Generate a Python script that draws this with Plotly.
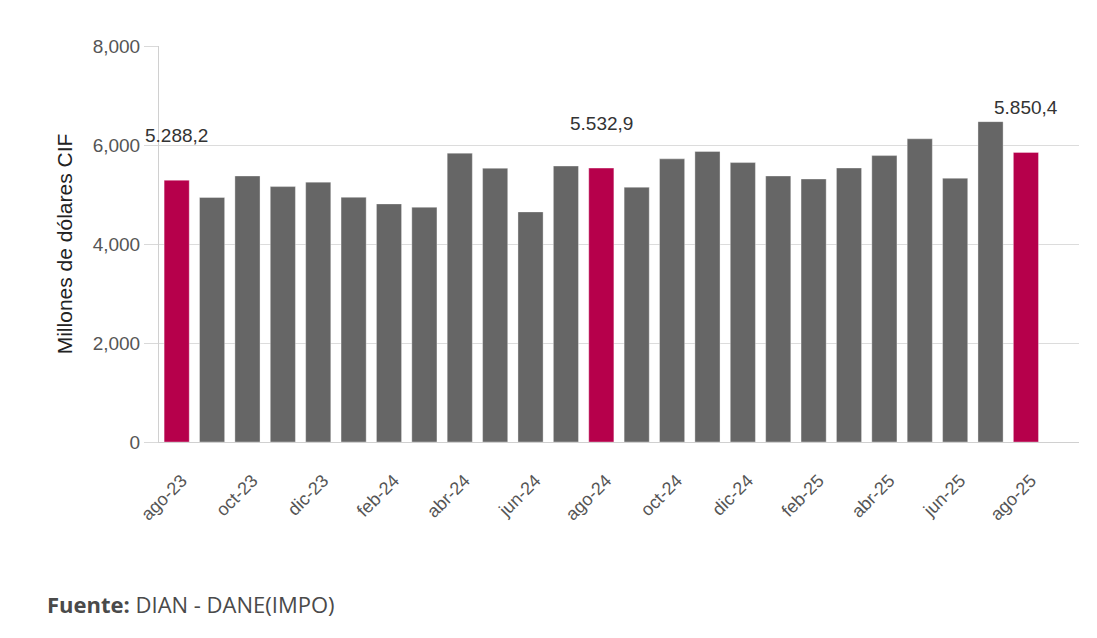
import plotly.graph_objects as go

months = ["ago-23", "sep-23", "oct-23", "nov-23", "dic-23", "ene-24", "feb-24", "mar-24",
          "abr-24", "may-24", "jun-24", "jul-24", "ago-24", "sep-24", "oct-24", "nov-24",
          "dic-24", "ene-25", "feb-25", "mar-25", "abr-25", "may-25", "jun-25", "jul-25", "ago-25"]
values = [5288.2, 4940, 5374, 5160, 5250, 4943, 4810, 4742,
          5835, 5530, 4648, 5575, 5532.9, 5147, 5720, 5868,
          5645, 5374, 5313, 5535, 5786, 6125, 5328, 6472, 5850.4]
highlight = ["ago-23", "ago-24", "ago-25"]
label_text = {"ago-23": "5.288,2", "ago-24": "5.532,9", "ago-25": "5.850,4"}
tick_labels = months[::2]
y_ticks = [0, 2000, 4000, 6000, 8000]

GRAY = "#666666"
MAGENTA = "#B6004B"
colors = [MAGENTA if m in highlight else GRAY for m in months]

FONT = "Liberation Sans, Arial, sans-serif"

fig = go.Figure()
fig.add_trace(go.Bar(
    x=months, y=values,
    marker=dict(color=colors, line=dict(color="rgba(255,255,255,0.35)", width=1)),
    hoverinfo="x+y",
))

for m in highlight:
    idx = months.index(m)
    fig.add_annotation(
        x=m, y=values[idx], yshift=45, text=label_text[m], showarrow=False,
        font=dict(family=FONT, size=19, color="#333333"),
        xanchor="center", yanchor="middle",
    )

fig.add_annotation(
    xref="paper", yref="paper", x=-0.124, y=-0.409,
    text="<b>Fuente:</b> DIAN - DANE(IMPO)", showarrow=False,
    xanchor="left", yanchor="middle",
    font=dict(family="Open Sans", size=22, color="#4a4a4a"),
)

fig.update_layout(
    width=1089, height=630,
    margin=dict(l=151, r=18, t=38, b=196),
    paper_bgcolor="white", plot_bgcolor="white",
    font=dict(family=FONT, size=18, color="#555555"),
    showlegend=False,
    bargap=0.29,
    xaxis=dict(
        type="category",
        categoryorder="array", categoryarray=months,
        range=[-0.5, 25.5],
        tickmode="array", tickvals=tick_labels, ticktext=tick_labels,
        tickangle=-45,
        tickfont=dict(family=FONT, size=18, color="#555555"),
        showline=True, linecolor="#d0d0d0", linewidth=1,
        showgrid=False,
        ticks="outside", ticklen=20, tickcolor="rgba(0,0,0,0)",
        ticklabelshift=5,
        zeroline=False,
    ),
    yaxis=dict(
        range=[0, 8000],
        tickmode="array", tickvals=y_ticks,
        tickformat=",d",
        tickfont=dict(family=FONT, size=19, color="#555555"),
        ticks="outside", ticklen=14, tickcolor="#d9d9d9",
        showline=True, linecolor="#d0d0d0", linewidth=1,
        showgrid=True, gridcolor="#dcdcdc", gridwidth=1,
        zeroline=False,
        title=dict(text="Millones de dólares CIF", standoff=14,
                   font=dict(family=FONT, size=21, color="#222222")),
    ),
)

fig.write_html("out.html")
